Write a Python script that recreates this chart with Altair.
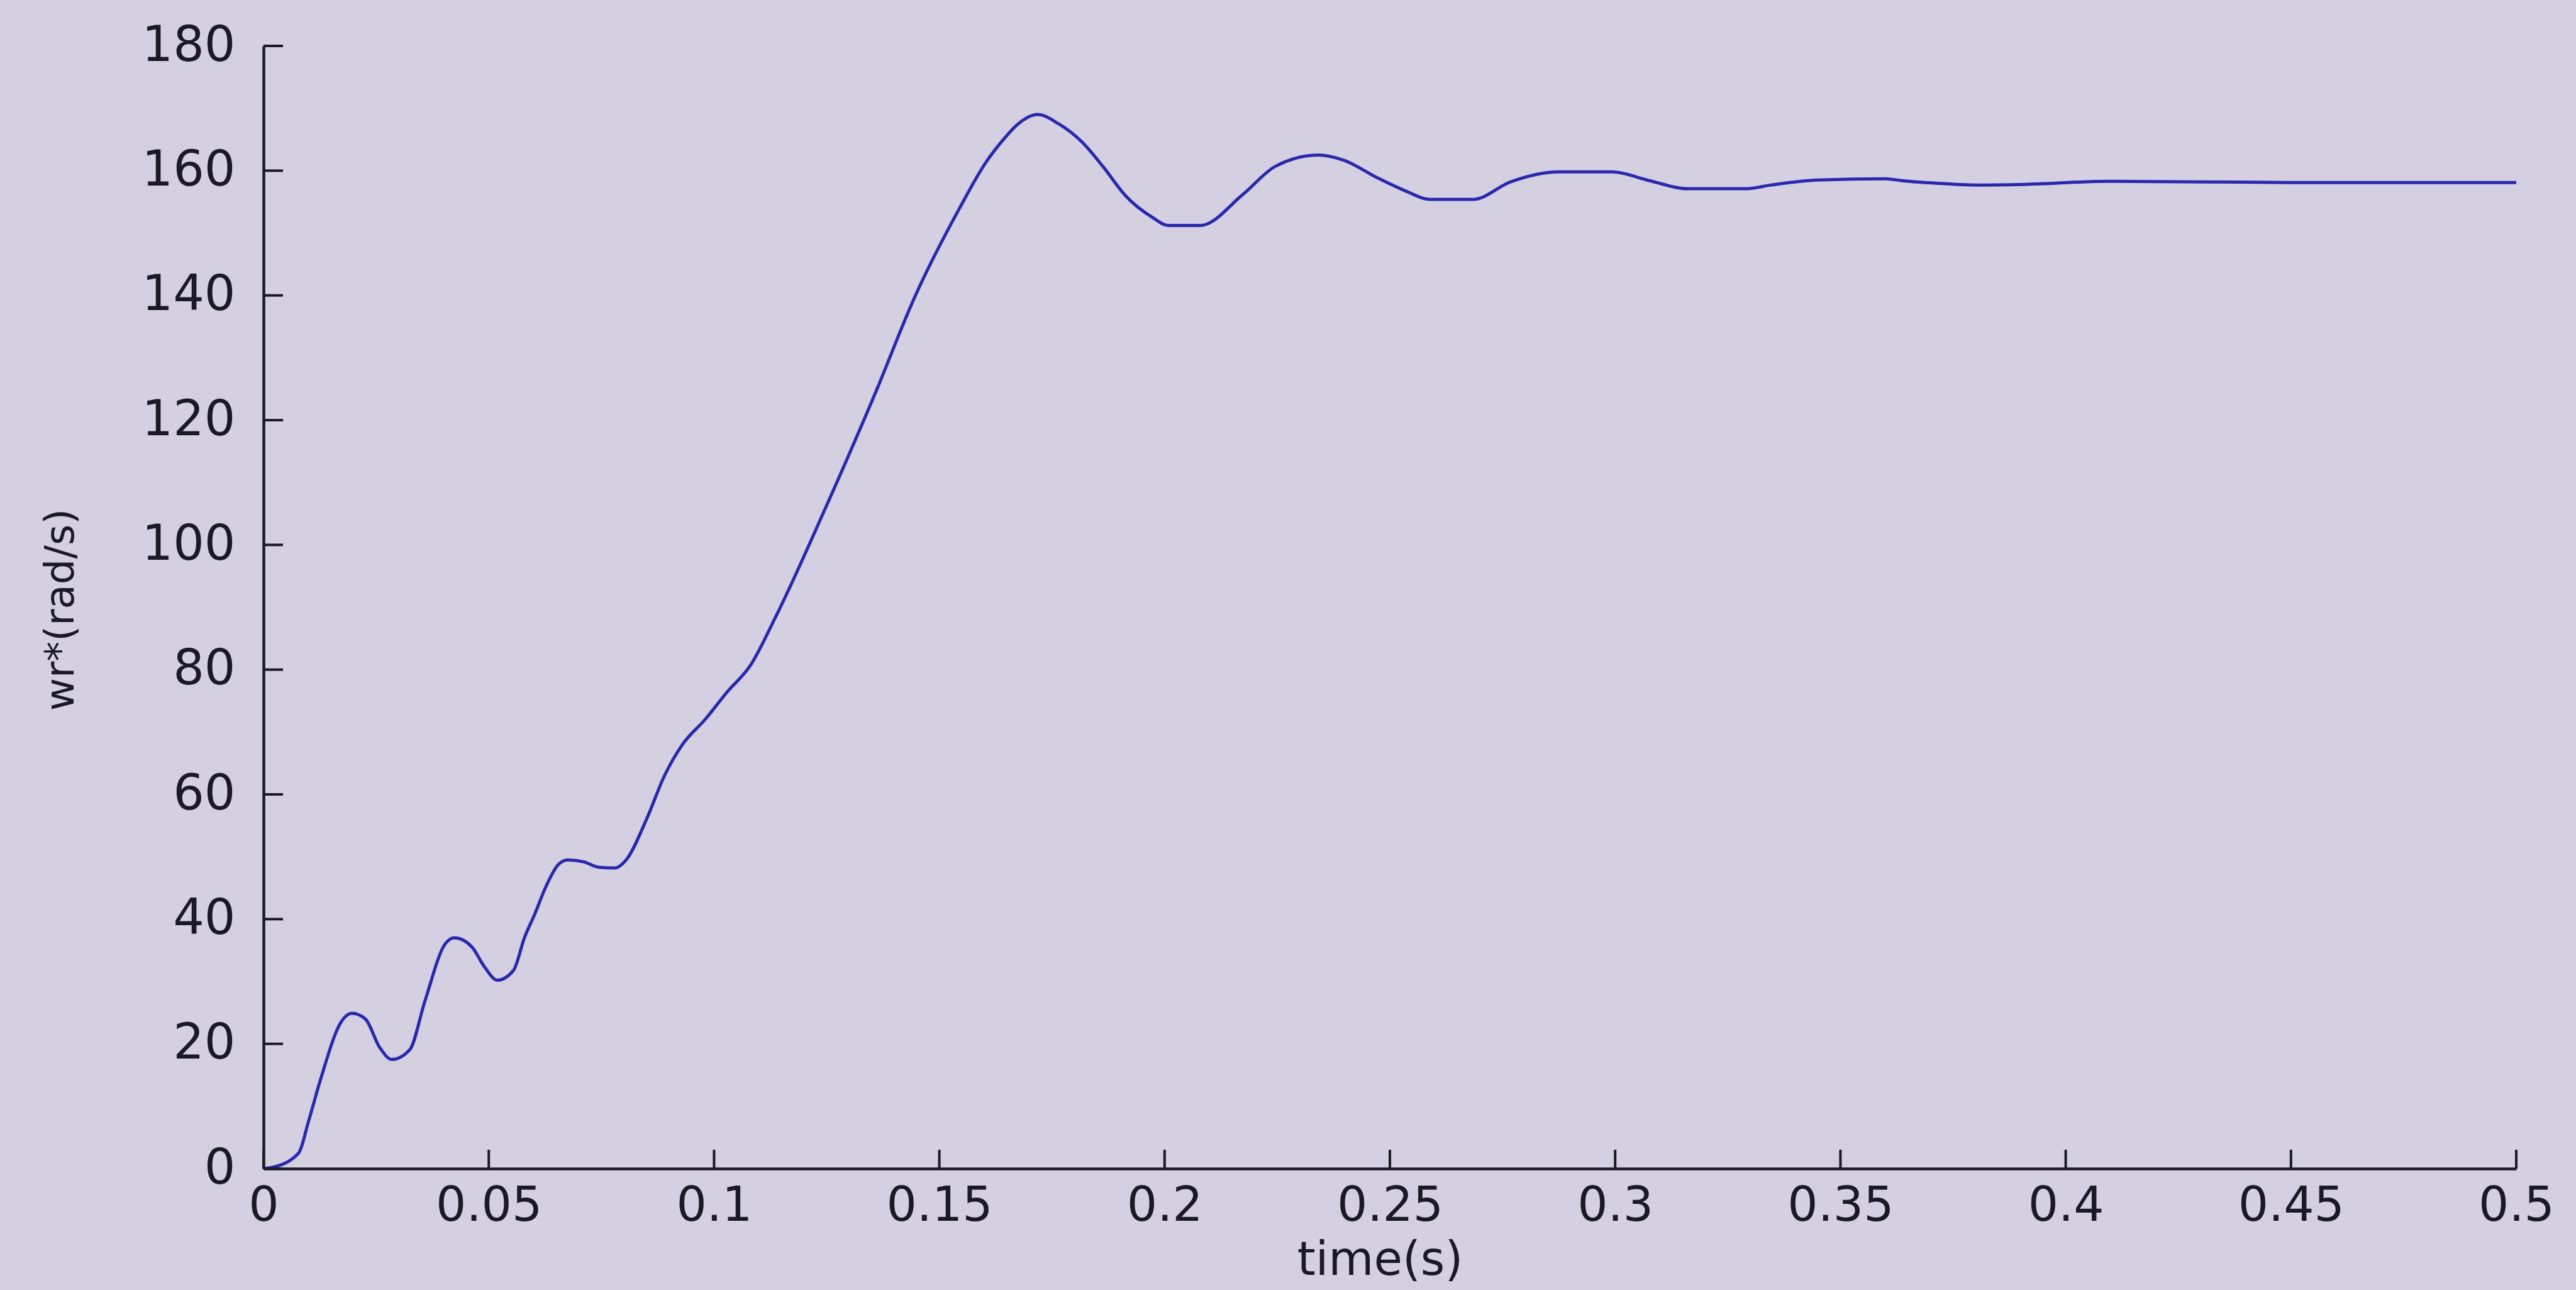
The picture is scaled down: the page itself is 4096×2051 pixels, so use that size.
import altair as alt
import pandas as pd

# ---- data ----
time_s = [0, 0.002, 0.0078, 0.010, 0.0127, 0.0174, 0.0196, 0.0226, 0.0258, 0.0285,
          0.0325, 0.0358, 0.0404, 0.0424, 0.0463, 0.049, 0.0519, 0.0555, 0.0579, 0.0602,
          0.0628, 0.0655, 0.0675, 0.071, 0.0745, 0.078, 0.0805, 0.085, 0.089, 0.093,
          0.098, 0.103, 0.108, 0.1137, 0.1246, 0.1356, 0.1447, 0.1545, 0.1605, 0.164,
          0.1675, 0.1718, 0.1765, 0.1818, 0.1865, 0.1913, 0.1973, 0.2008, 0.2079, 0.2174,
          0.2246, 0.2341, 0.240, 0.2471, 0.253, 0.259, 0.2685, 0.2768, 0.2874, 0.2993,
          0.3076, 0.316, 0.329, 0.3346, 0.345, 0.36, 0.3636, 0.371, 0.38, 0.3908,
          0.41, 0.45, 0.5]
wr = [0, 0.2, 2.5, 7.6, 14.4, 23.7, 24.9, 24.0, 19.4, 17.5,
      19.1, 26.8, 36.1, 37.0, 35.5, 32.4, 30.2, 31.8, 37.0, 40.8,
      45.4, 48.8, 49.5, 49.2, 48.3, 48.2, 49.5, 56.0, 63.0, 68.0,
      72.0, 76.5, 80.6, 88.5, 105.7, 124.0, 140.0, 154.0, 161.5, 164.8,
      167.5, 169.0, 167.5, 164.5, 160.5, 156.0, 152.5, 151.2, 151.2, 156.2,
      160.7, 162.5, 161.6, 158.9, 156.9, 155.4, 155.4, 158.2, 159.8, 159.8,
      158.4, 157.1, 157.1, 157.7, 158.5, 158.7, 158.4, 158.0, 157.7, 157.8,
      158.3, 158.1, 158.1]

x_ticks = [0, 0.05, 0.1, 0.15, 0.2, 0.25, 0.3, 0.35, 0.4, 0.45, 0.5]
y_ticks = [0, 20, 40, 60, 80, 100, 120, 140, 160, 180]

W, H = 3582, 1785
BG = "#d4d0e2"
INK = "#1a1a26"
FONT = "DejaVu Sans"

df = pd.DataFrame({"t": time_s, "wr": wr})
xt = pd.DataFrame({"t": x_ticks})
yt = pd.DataFrame({"v": y_ticks})

xscale = alt.Scale(domain=[0, 0.5], nice=False, zero=False)
yscale = alt.Scale(domain=[0, 180], nice=False, zero=False)

xaxis = alt.Axis(values=x_ticks, format="~g", grid=False, ticks=False,
                 domainColor=INK, domainWidth=4.5,
                 labelFont=FONT, labelFontSize=76, labelColor=INK,
                 labelPadding=22, labelBaseline="top", labelFlush=False,
                 labelOverlap=False,
                 title="time(s)", titleFont=FONT, titleFontSize=74,
                 titleFontWeight="normal", titleColor=INK,
                 titleX=1775, titleY=168, titleBaseline="alphabetic",
                 titleAlign="center")
yaxis = alt.Axis(values=y_ticks, grid=False, ticks=False,
                 domainColor=INK, domainWidth=4.5,
                 labelFont=FONT, labelFontSize=78, labelColor=INK,
                 labelPadding=45, labelFlush=False, labelOverlap=False,
                 title="wr*(rad/s)", titleFont=FONT, titleFontSize=64,
                 titleFontWeight="normal", titleColor=INK,
                 titleX=-303, titleY=896, titleAngle=270,
                 titleBaseline="alphabetic", titleAlign="center")

line = alt.Chart(df).mark_line(color="#2929ad", strokeWidth=5, interpolate="monotone").encode(
    x=alt.X("t:Q", scale=xscale, axis=xaxis),
    y=alt.Y("wr:Q", scale=yscale, axis=yaxis),
)

yticks = alt.Chart(yt).mark_rule(color=INK, strokeWidth=4).encode(
    y=alt.Y("v:Q", scale=yscale),
    x=alt.value(0),
    x2=alt.value(31),
)

xticks = alt.Chart(xt).mark_rule(color=INK, strokeWidth=4).encode(
    x=alt.X("t:Q", scale=xscale),
    y=alt.value(H),
    y2=alt.value(H - 30),
)

chart = alt.layer(line, yticks, xticks).properties(
    width=W, height=H,
    background=BG,
    padding={"left": 419, "top": 73, "right": 95, "bottom": 193},
    autosize=alt.AutoSizeParams(type="none"),
).configure_view(stroke=None)

chart.save("out.html", embed_options={"renderer": "svg", "actions": False})
